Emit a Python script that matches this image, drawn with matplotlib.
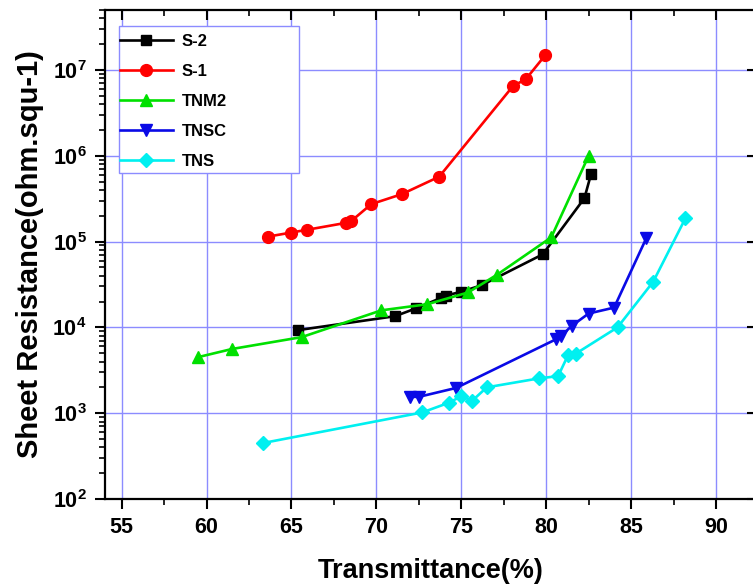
import numpy as np
import matplotlib
matplotlib.use("Agg")
import matplotlib.pyplot as plt
from matplotlib.patches import Rectangle
from matplotlib.ticker import LogLocator, MultipleLocator, NullFormatter

plt.rcParams['font.family'] = ['Liberation Sans', 'DejaVu Sans']
plt.rcParams['font.weight'] = 'bold'
plt.rcParams['mathtext.fontset'] = 'custom'
plt.rcParams['mathtext.rm'] = 'Liberation Sans:bold'
plt.rcParams['mathtext.it'] = 'Liberation Sans:bold'
plt.rcParams['mathtext.bf'] = 'Liberation Sans:bold'

# --- data ---
s2_x = [65.4, 71.1, 72.35, 73.8, 74.1, 75.0, 76.2, 79.8, 82.25, 82.65]
s2_y = [9.3e3, 1.35e4, 1.67e4, 2.2e4, 2.35e4, 2.6e4, 3.1e4, 7.1e4, 3.2e5, 6.2e5]

s1_x = [63.6, 64.95, 65.9, 68.2, 68.5, 69.7, 71.5, 73.7, 78.05, 78.8, 79.95]
s1_y = [1.14e5, 1.27e5, 1.37e5, 1.65e5, 1.72e5, 2.73e5, 3.57e5, 5.7e5, 6.5e6, 7.8e6, 1.49e7]

tnm2_x = [59.5, 61.5, 65.6, 70.3, 73.0, 75.4, 77.1, 80.3, 82.5]
tnm2_y = [4.5e3, 5.6e3, 7.7e3, 1.58e4, 1.86e4, 2.55e4, 4.1e4, 1.12e5, 1.0e6]

tnsc_x = [72.0, 72.5, 74.7, 80.6, 80.9, 81.5, 82.5, 84.0, 85.9]
tnsc_y = [1.55e3, 1.55e3, 1.97e3, 7.3e3, 8.0e3, 1.04e4, 1.45e4, 1.7e4, 1.1e5]

tns_x = [63.35, 72.7, 74.3, 75.0, 75.65, 76.5, 79.6, 80.7, 81.3, 81.75, 84.2, 86.3, 88.2]
tns_y = [450, 1.02e3, 1.33e3, 1.58e3, 1.4e3, 2.0e3, 2.55e3, 2.7e3, 4.8e3, 4.95e3, 1.0e4, 3.4e4, 1.87e5]

fig = plt.figure(figsize=(7.53, 5.85), dpi=100)
# right edge sits just past the canvas, like the cropped original
ax = fig.add_axes([0.139, 0.147, 0.866, 0.836])

grid_c = '#8c8cff'
lw = 1.9

ax.plot(s2_x, s2_y, '-s', color='black', lw=lw, ms=7, label='S-2', zorder=5)
ax.plot(s1_x, s1_y, '-o', color='#ff0000', lw=lw, ms=8.5, label='S-1', zorder=4)
ax.plot(tnm2_x, tnm2_y, '-^', color='#00e000', lw=lw, ms=9, label='TNM2', zorder=6)
ax.plot(tnsc_x, tnsc_y, '-v', color='#0a0ae6', lw=lw, ms=9, label='TNSC', zorder=5)
ax.plot(tns_x, tns_y, '-D', color='#00f0f0', lw=lw, ms=7.5, label='TNS', zorder=5)

ax.set_yscale('log')
ax.set_xlim(54, 92.4)
ax.set_ylim(1e2, 5e7)

ax.xaxis.set_major_locator(MultipleLocator(5))
ax.xaxis.set_minor_locator(MultipleLocator(2.5))
ax.yaxis.set_major_locator(LogLocator(base=10, numticks=12))
ax.yaxis.set_minor_locator(LogLocator(base=10, subs=np.arange(2, 10), numticks=12))
ax.yaxis.set_minor_formatter(NullFormatter())

ax.grid(True, which='major', color=grid_c, lw=1.0, zorder=0)
ax.set_axisbelow(True)

for s in ax.spines.values():
    s.set_linewidth(1.6)

ax.tick_params(axis='both', which='major', labelsize=15.5, width=1.5, length=7, pad=6)
ax.tick_params(axis='both', which='minor', width=1.2, length=4)
ax.tick_params(axis='x', which='both', direction='out', top=True, labeltop=False)
ax.tick_params(axis='y', which='both', direction='out', right=True)
# top and right ticks point inward
for t in ax.xaxis.get_major_ticks() + ax.xaxis.get_minor_ticks():
    t.tick2line.set_marker(3)
for t in ax.yaxis.get_major_ticks():
    t.tick2line.set_marker(0)
ax.tick_params(axis='y', which='minor', right=False)

ax.set_xlabel('Transmittance(%)', fontsize=19.5, fontweight='bold', labelpad=14)
ax.set_ylabel('Sheet Resistance(ohm.squ-1)', fontsize=21, fontweight='bold', labelpad=6)

# legend box like Origin
box = Rectangle((0.022, 0.667), 0.276, 0.300, transform=ax.transAxes,
                facecolor='white', edgecolor=grid_c, lw=1.0, zorder=3)
ax.add_patch(box)
leg = ax.legend(loc='upper left', bbox_to_anchor=(0.018, 0.957), frameon=False,
                fontsize=12, handlelength=3.2, handletextpad=0.5, labelspacing=0.9,
                borderaxespad=0, borderpad=0.2, numpoints=1)
leg.set_zorder(10)

plt.savefig('out.png', dpi=100)
